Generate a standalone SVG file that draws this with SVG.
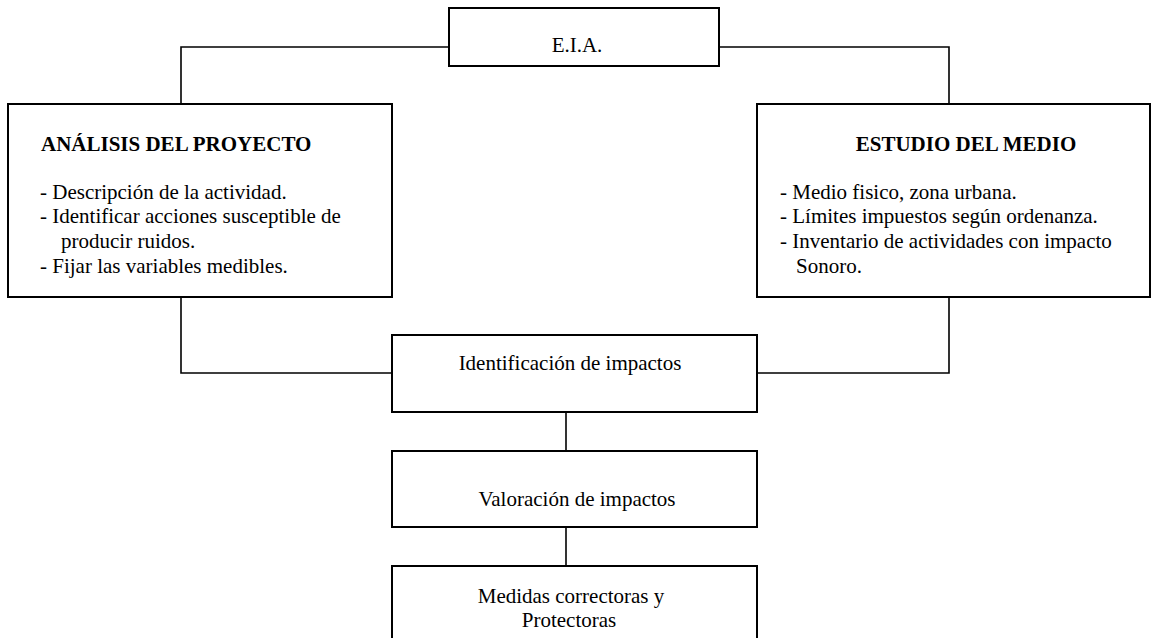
<svg xmlns="http://www.w3.org/2000/svg" width="1152" height="638" viewBox="0 0 1152 638">
<style>
.box{fill:#fff;stroke:#000;stroke-width:2}
.con{fill:none;stroke:#000;stroke-width:1.6}
text{font-family:"Liberation Serif","Times New Roman",serif;font-size:21px;fill:#000}
.b{font-weight:bold}
.c{text-anchor:middle}
</style>
<rect width="1152" height="638" fill="#fff"/>
<g id="connectors">
<polyline class="con" points="449,47 181,47 181,104"/>
<polyline class="con" points="719,47 949,47 949,104"/>
<polyline class="con" points="181,297 181,373 392,373"/>
<polyline class="con" points="949,297 949,373 757,373"/>
<line class="con" x1="566" y1="412" x2="566" y2="451"/>
<line class="con" x1="566" y1="527" x2="566" y2="566"/>
</g>
<g id="eia">
<rect class="box" x="449" y="8" width="270" height="58"/>
<text class="c" x="577" y="52">E.I.A.</text>
</g>
<g id="analisis">
<rect class="box" x="8" y="104" width="384" height="193"/>
<text class="b" x="41" y="151">ANÁLISIS DEL PROYECTO</text>
<text x="40" y="199">- Descripción de la actividad.</text>
<text x="40" y="223">- Identificar acciones susceptible de</text>
<text x="61" y="248">producir ruidos.</text>
<text x="40" y="273">- Fijar las variables medibles.</text>
</g>
<g id="estudio">
<rect class="box" x="757" y="104" width="393" height="193"/>
<text class="b c" x="966" y="151">ESTUDIO DEL MEDIO</text>
<text x="780" y="199">- Medio fisico, zona urbana.</text>
<text x="780" y="223">- Límites impuestos según ordenanza.</text>
<text x="780" y="248">- Inventario de actividades con impacto</text>
<text x="796" y="273">Sonoro.</text>
</g>
<g id="identificacion">
<rect class="box" x="392" y="335" width="365" height="77"/>
<text class="c" x="570" y="370">Identificación de impactos</text>
</g>
<g id="valoracion">
<rect class="box" x="392" y="451" width="365" height="76"/>
<text class="c" x="577" y="506">Valoración de impactos</text>
</g>
<g id="medidas">
<rect class="box" x="392" y="566" width="365" height="80"/>
<text class="c" x="571" y="603">Medidas correctoras y</text>
<text class="c" x="569" y="627">Protectoras</text>
</g>
</svg>
